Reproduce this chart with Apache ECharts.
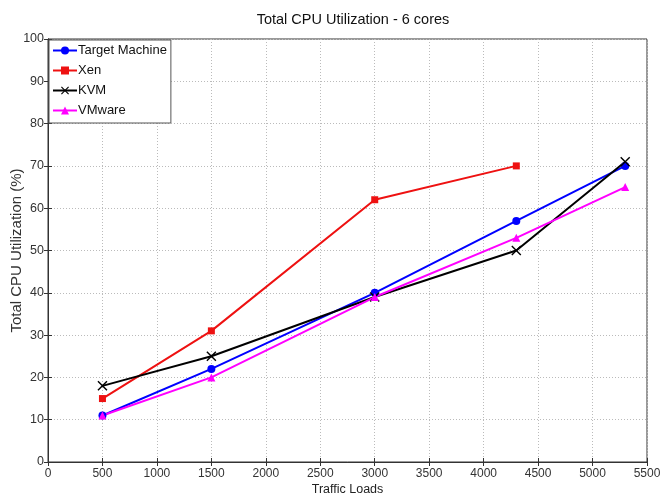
<!DOCTYPE html>
<html><head><meta charset="utf-8">
<script src="https://cdn.jsdelivr.net/npm/echarts@6/dist/echarts.min.js"></script>
<style>html,body{margin:0;padding:0;background:#fff}#c{width:667px;height:497px}</style>
</head><body><div id="c"></div>
<script>
const xLoads = [500, 1500, 3000, 4300, 5300];
const targetMachine = [11, 22, 40, 57, 70];
const xen = [15, 31, 62, 70];
const kvm = [18, 25, 39, 50, 71];
const vmware = [11, 20, 39, 53, 65];
const seriesNames = ['Target Machine', 'Xen', 'KVM', 'VMware'];

const pairs = (xs, ys) => ys.map((v, i) => [xs[i], v]);
const crossPath = 'path://M0,1L1,0L5,4L9,0L10,1L6,5L10,9L9,10L5,6L1,10L0,9L4,5Z';
const font = 'Liberation Sans, Arial, sans-serif';

const chart = echarts.init(document.getElementById('c'), null, {renderer: 'canvas'});
const mk = (name, data, color, symbol, size) => ({
  name, type: 'line', data, symbol, symbolSize: size, showSymbol: true,
  lineStyle: {color, width: 2}, itemStyle: {color}, animation: false, z: 3
});
chart.setOption({
  animation: false,
  title: {text: 'Total CPU Utilization - 6 cores', left: 348, top: 7, textAlign: 'center',
    textStyle: {fontFamily: font, fontSize: 14.5, fontWeight: 'normal', color: '#111'}},
  grid: {left: 48, right: 20, top: 39, bottom: 35, show: true, borderColor: '#333', borderWidth: 1,
    containLabel: false, outerBoundsMode: 'none'},
  legend: {
    data: seriesNames, orient: 'vertical', left: 49, top: 40, padding: [4, 4, 6, 3],
    itemGap: 7, itemWidth: 24, itemHeight: 10,
    backgroundColor: '#fff', borderColor: '#555', borderWidth: 1,
    textStyle: {fontFamily: font, fontSize: 13, color: '#111', padding: [0, 0, 0, -4]}
  },
  xAxis: [{
    type: 'value', min: 0, max: 5500, interval: 500,
    name: 'Traffic Loads', nameLocation: 'middle', nameGap: 21, nameMoveOverlap: false,
    nameTextStyle: {fontFamily: font, fontSize: 12.5, color: '#222'},
    axisLine: {show: true, lineStyle: {color: '#333'}},
    axisTick: {show: true, inside: true, length: 4, lineStyle: {color: '#333'}},
    axisLabel: {fontFamily: font, fontSize: 12, color: '#333', margin: 6, formatter: v => String(v)},
    splitLine: {show: true, lineStyle: {color: '#bbb', type: [1, 2], width: 1}}
  }, {
    type: 'value', position: 'top', min: 0, max: 5500, interval: 500,
    axisLine: {show: true, lineStyle: {color: '#333'}},
    axisTick: {show: true, inside: true, length: 4, lineStyle: {color: '#333'}},
    axisLabel: {show: false}, splitLine: {show: false}
  }],
  yAxis: [{
    type: 'value', min: 0, max: 100, interval: 10,
    name: 'Total CPU Utilization (%)', nameLocation: 'middle', nameGap: 24, nameMoveOverlap: false,
    nameTextStyle: {fontFamily: font, fontSize: 15, color: '#333'},
    axisLine: {show: true, lineStyle: {color: '#333'}},
    axisTick: {show: true, inside: true, length: 4, lineStyle: {color: '#333'}},
    axisLabel: {fontFamily: font, fontSize: 12.5, color: '#333', margin: 4, formatter: v => String(v)},
    splitLine: {show: true, lineStyle: {color: '#bbb', type: [1, 2], width: 1}}
  }, {
    type: 'value', position: 'right', min: 0, max: 100, interval: 10,
    axisLine: {show: true, lineStyle: {color: '#333'}},
    axisTick: {show: true, inside: true, length: 4, lineStyle: {color: '#333'}},
    axisLabel: {show: false}, splitLine: {show: false}
  }],
  series: [
    mk(seriesNames[0], pairs(xLoads, targetMachine), '#0000ff', 'circle', 8),
    mk(seriesNames[1], pairs(xLoads, xen), '#ee1111', 'rect', 7),
    mk(seriesNames[2], pairs(xLoads, kvm), '#000000', crossPath, 10),
    mk(seriesNames[3], pairs(xLoads, vmware), '#ff00ff', 'triangle', 8)
  ]
});
</script></body></html>
